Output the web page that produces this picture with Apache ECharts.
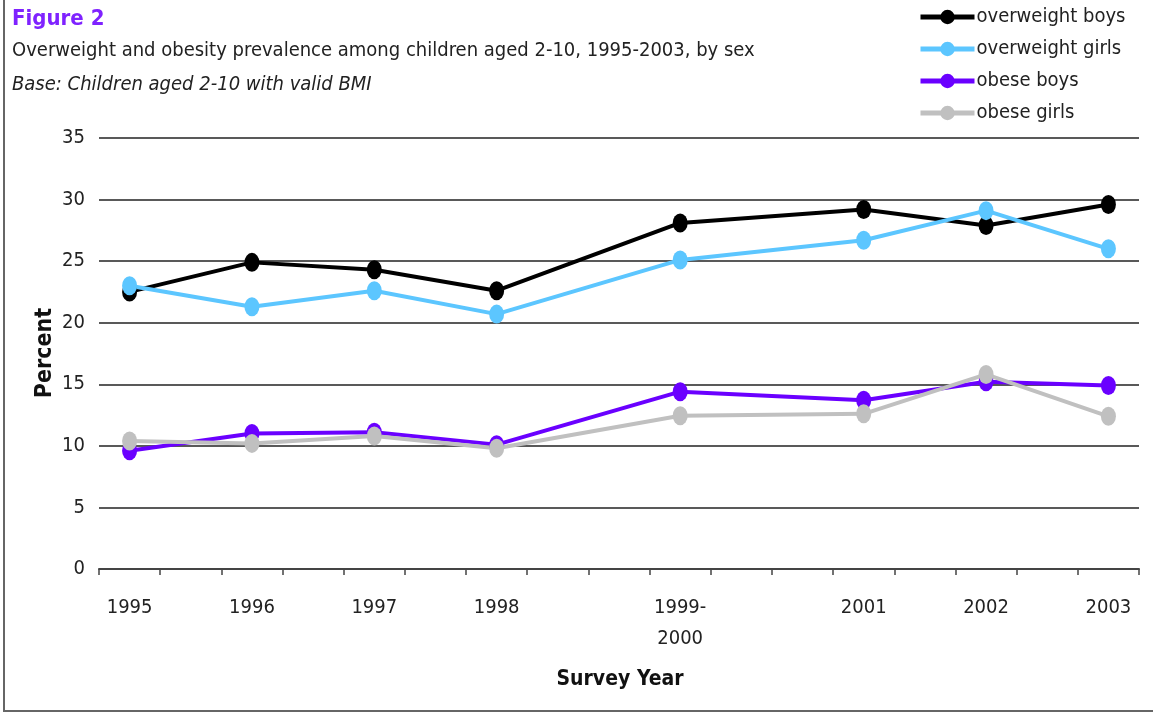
<!DOCTYPE html>
<html>
<head>
<meta charset="utf-8">
<script src="https://cdn.jsdelivr.net/npm/echarts@6/dist/echarts.min.js"></script>
<style>
html,body{margin:0;padding:0;background:#fff;}
#chart{width:1153px;height:713px;}
</style>
</head>
<body>
<div id="chart"></div>
<script>
// Survey years and their position on a half-year grid (17 half-year slots)
const surveyYears = ['1995','1996','1997','1998','1999-\n2000','2001','2002','2003'];
const halfYearSlot = [0, 2, 4, 6, 9, 12, 14, 16];
const slotCount = 17;

const overweightBoys  = [22.5, 24.9, 24.3, 22.6, 28.1, 29.2, 27.9, 29.6];
const overweightGirls = [23.0, 21.3, 22.6, 20.7, 25.1, 26.7, 29.1, 26.0];
const obeseBoys       = [9.6, 11.0, 11.1, 10.1, 14.4, 13.7, 15.2, 14.9];
const obeseGirls      = [10.4, 10.2, 10.8, 9.8, 12.45, 12.6, 15.8, 12.4];

const seriesNames = ['overweight boys','overweight girls','obese boys','obese girls'];
const seriesColors = ['#000000','#5CC6FF','#6A00FF','#C0C0C0'];
const seriesValues = [overweightBoys, overweightGirls, obeseBoys, obeseGirls];

const yMin = 0, yMax = 35, yStep = 5;

const FONT = '"DejaVu Sans Condensed", "DejaVu Sans", Tahoma, sans-serif';

const slots = [];
const slotLabel = {};
for (let i = 0; i < slotCount; i++) slots.push('s' + i);
halfYearSlot.forEach((s, i) => { slotLabel['s' + s] = surveyYears[i]; });

const chart = echarts.init(document.getElementById('chart'));
chart.setOption({
  animation: false,
  backgroundColor: '#fff',
  grid: { left: 99, right: 14, top: 138, bottom: 144, containLabel: false },
  legend: {
    orient: 'vertical',
    left: 913,
    top: 2,
    itemWidth: 54,
    itemHeight: 18,
    itemGap: 12,
    lineStyle: { width: 5 },
    textStyle: { fontFamily: FONT, fontSize: 20, color: '#222', lineHeight: 20, padding: [0,0,0,-3] },
    data: seriesNames
  },
  xAxis: {
    type: 'category',
    data: slots,
    boundaryGap: true,
    axisLine: { show: true, lineStyle: { color: '#444', width: 2 } },
    axisTick: { show: true, interval: 0, length: 6, lineStyle: { color: '#444', width: 1.5 } },
    axisLabel: {
      interval: 0,
      margin: 23,
      fontFamily: FONT,
      fontSize: 20,
      color: '#222',
      lineHeight: 31,
      formatter: v => slotLabel[v] || ''
    },
    splitLine: { show: false }
  },
  yAxis: {
    type: 'value',
    min: yMin, max: yMax, interval: yStep,
    axisLine: { show: false },
    axisTick: { show: false },
    axisLabel: { margin: 14, fontFamily: FONT, fontSize: 20, color: '#222' },
    splitLine: { show: true, lineStyle: { color: '#222', width: 1.5 } }
  },
  graphic: [
    { type: 'polyline', shape: { points: [[4,0],[4,711],[1153,711]] }, style: { stroke: '#666', lineWidth: 2, fill: null } },
    { type: 'text', left: 12, top: 8, style: { text: 'Figure 2', fontFamily: FONT, fontSize: 22, fontWeight: 'bold', fill: '#7F22FF' } },
    { type: 'text', left: 12, top: 41, style: { text: 'Overweight and obesity prevalence among children aged 2-10, 1995-2003, by sex', fontFamily: FONT, fontSize: 20, fill: '#222' } },
    { type: 'text', left: 12, top: 75, style: { text: 'Base: Children aged 2-10 with valid BMI', fontFamily: FONT, fontSize: 20, fontStyle: 'italic', fill: '#222' } },
    { type: 'text', x: 45, y: 353, rotation: Math.PI / 2, style: { text: 'Percent', fontFamily: FONT, fontSize: 23, fontWeight: 'bold', fill: '#111', align: 'center', verticalAlign: 'middle' } },
    { type: 'text', x: 620, y: 680, style: { text: 'Survey Year', fontFamily: FONT, fontSize: 21, fontWeight: 'bold', fill: '#111', align: 'center', verticalAlign: 'middle' } }
  ],
  series: seriesNames.map((name, k) => ({
    name: name,
    type: 'line',
    connectNulls: true,
    symbol: 'circle',
    symbolSize: [15, 19],
    lineStyle: { color: seriesColors[k], width: 4 },
    itemStyle: { color: seriesColors[k] },
    data: halfYearSlot.map((s, i) => [s, seriesValues[k][i]])
  }))
});
</script>
</body>
</html>
